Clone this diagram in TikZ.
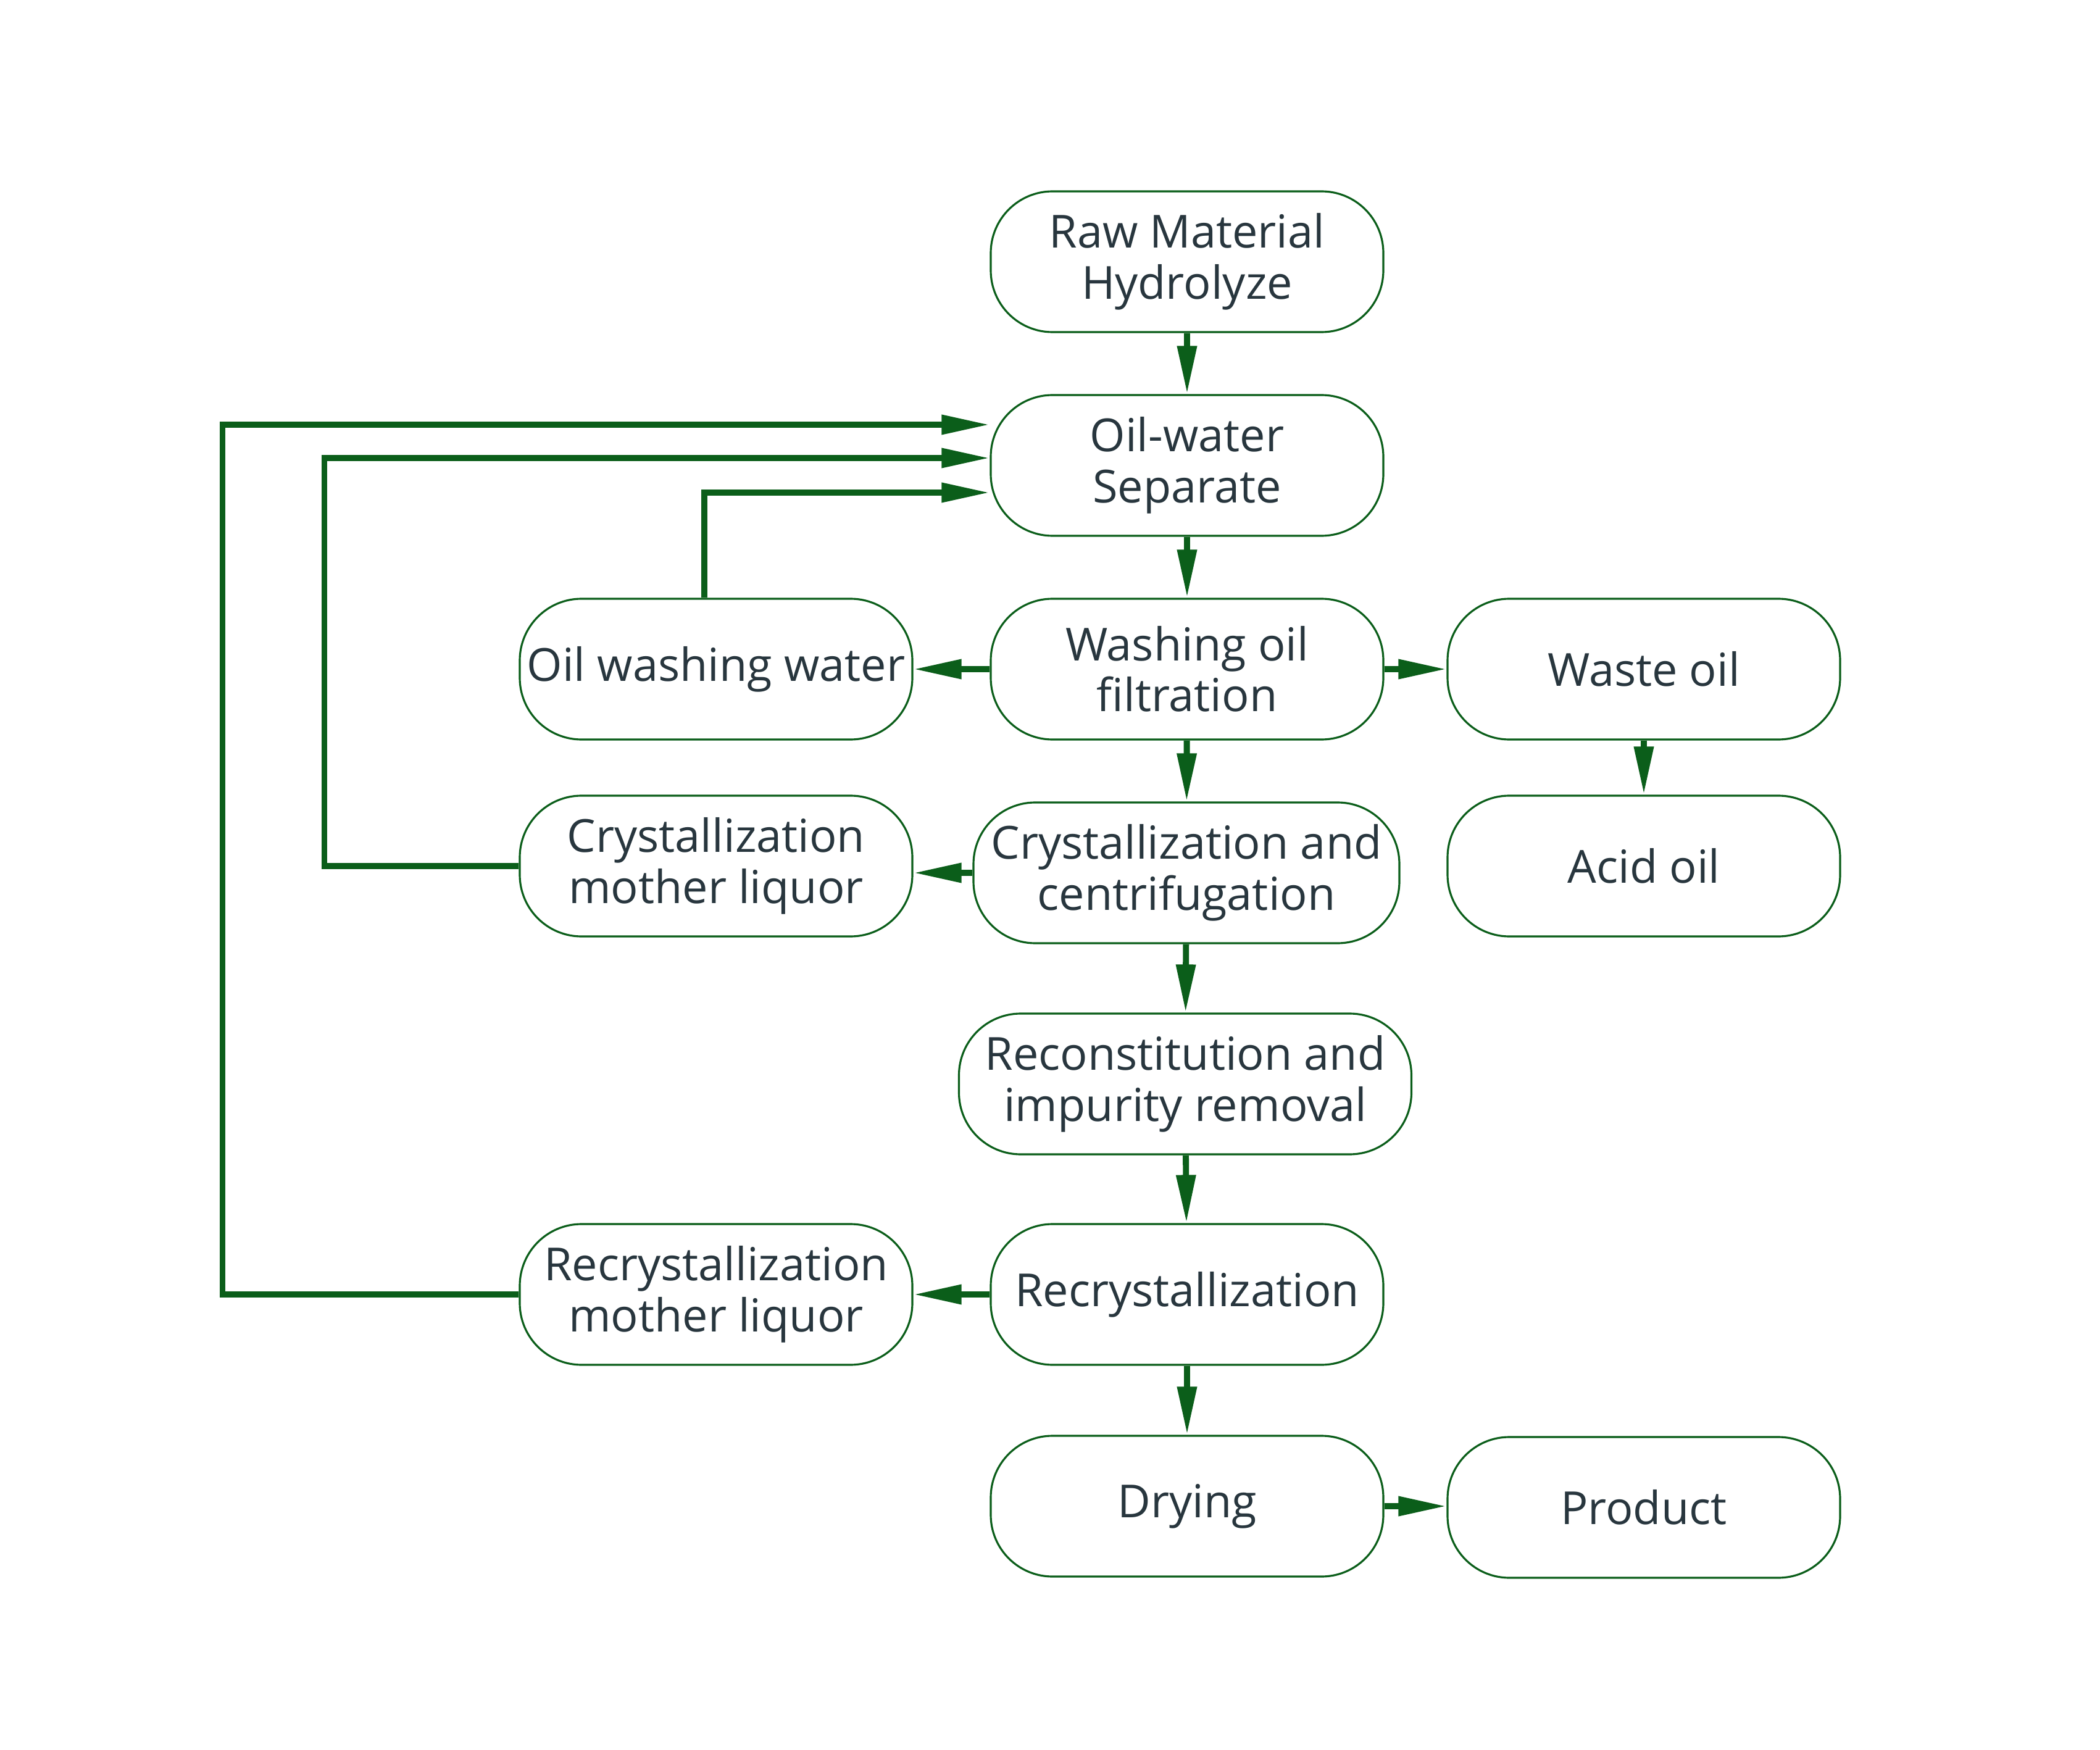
\documentclass[tikz,border=0pt]{standalone}
\usepackage{fontspec}
\setmainfont{Open Sans}
\usetikzlibrary{arrows.meta}
\definecolor{flowgreen}{HTML}{0B5E1A}
\definecolor{textgray}{HTML}{28363E}

\tikzset{
  procbox/.style={draw=flowgreen, line width=0.9pt, rounded corners=1cm,
    minimum width=6.36cm, minimum height=2.28cm, inner sep=2pt,
    align=center, text=textgray, font=\fontsize{21}{23.5}\selectfont},
  flow/.style={draw=flowgreen, line width=2.8pt,
    -{Triangle[length=0.78cm,width=0.30cm]}},
}

\begin{document}
\begin{tikzpicture}
        \useasboundingbox (0,0) rectangle (34.02,-28.35);
        % Main process column
        \node[procbox] (raw) at (19.23,-4.24) {Raw Material\\Hydrolyze};
        \node[procbox] (sep) at (19.23,-7.54) {Oil-water\\Separate};
        \node[procbox] (wash) at (19.23,-10.84) {Washing oil\\filtration};
        \node[procbox, minimum width=6.90cm] (cc) at (19.22,-14.14) {Crystallization and\\centrifugation};
        \node[procbox, minimum width=7.33cm] (recon) at (19.20,-17.56) {Reconstitution and\\impurity removal};
        \node[procbox] (recr) at (19.23,-20.97) {Recrystallization};
        \node[procbox] (dry) at (19.23,-24.40) {Drying};
        % Side streams
        \node[procbox] (oww) at (11.60,-10.84) {Oil washing water};
        \node[procbox] (cml) at (11.60,-14.03) {Crystallization\\mother liquor};
        \node[procbox] (rml) at (11.60,-20.97) {Recrystallization\\mother liquor};
        \node[procbox] (waste) at (26.63,-10.84) {Waste oil};
        \node[procbox] (acid) at (26.63,-14.03) {Acid oil};
        \node[procbox] (prod) at (26.63,-24.42) {Product};

        % Arrows down the column
        \draw[flow] (raw) -- (sep);
        \draw[flow] (sep) -- (wash);
        \draw[flow] (wash) -- (cc);
        \draw[flow] (cc) -- (recon);
        \draw[flow] (recon) -- (recr);
        \draw[flow] (recr) -- (dry);
        % Arrows to the sides
        \draw[flow] (wash.west) -- (oww.east);
        \draw[flow] (wash.east) -- (waste.west);
        \draw[flow] (waste) -- (acid);
        \draw[flow] (cc.west) -- (cc.west -| cml.east);
        \draw[flow] (recr.west) -- (rml.east);
        \draw[flow] (dry.east) -- (prod.west |- dry.east);

        % Feedback lines to the separator
        \draw[flow] (rml.west) -- ++(-4.80,0) |- ([yshift=6.6mm]sep.west);
        \draw[flow] (cml.west) -- ++(-3.15,0) |- ([yshift=1.2mm]sep.west);
        \draw[flow] ([xshift=-1.9mm]oww.north) |- ([yshift=-4.4mm]sep.west);
\end{tikzpicture}
\end{document}
